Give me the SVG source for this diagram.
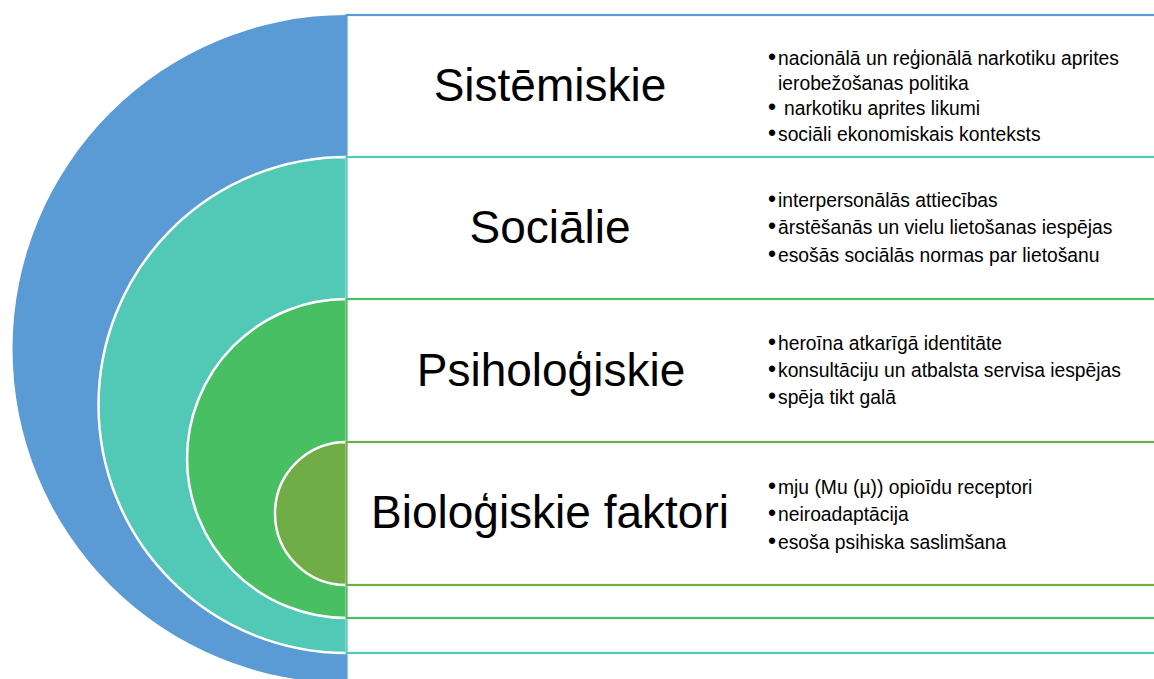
<svg xmlns="http://www.w3.org/2000/svg" width="1154" height="679" viewBox="0 0 1154 679">
<style>
.disc{stroke:#ffffff;stroke-width:2.5}
.box{fill:#ffffff;stroke-width:2.2}
.title{font-family:"Liberation Sans",Arial,sans-serif;font-size:46px;fill:#000;text-anchor:middle}
.item{font-family:"Liberation Sans",Arial,sans-serif;font-size:19.3px;fill:#000}
.b{font-size:23px}
</style>
<rect width="1154" height="679" fill="#ffffff"/>
<g id="sistemiskie">
<path d="M346.5,15 A334,334 0 0 0 346.5,683 Z" fill="#5B9BD5"/>
<rect class="box" x="346.5" y="15" width="820" height="700" stroke="#5B9BD5"/>
<text class="title" x="550" y="101">Sistēmiskie</text>
<text class="item"><tspan class="b" x="768" y="65">•</tspan><tspan x="778" y="65">nacionālā un reģionālā narkotiku aprites</tspan><tspan x="778" y="90">ierobežošanas politika</tspan><tspan class="b" x="768" y="115">•</tspan><tspan x="784" y="115">narkotiku aprites likumi</tspan><tspan class="b" x="768" y="141">•</tspan><tspan x="778" y="141">sociāli ekonomiskais konteksts</tspan></text>
</g>
<g id="socialie">
<path class="disc" d="M346.5,157 A248,248 0 0 0 346.5,653 Z" fill="#52C9B6"/>
<rect class="box" x="346.5" y="157" width="820" height="496" stroke="#52C9B6"/>
<text class="title" x="550" y="243">Sociālie</text>
<text class="item"><tspan class="b" x="768" y="207">•</tspan><tspan x="778" y="207">interpersonālās attiecības</tspan><tspan class="b" x="768" y="234">•</tspan><tspan x="778" y="234">ārstēšanās un vielu lietošanas iespējas</tspan><tspan class="b" x="768" y="262">•</tspan><tspan x="778" y="262">esošās sociālās normas par lietošanu</tspan></text>
</g>
<g id="psihologiskie">
<path class="disc" d="M346.5,299 A159.5,159.5 0 0 0 346.5,618 Z" fill="#48BF63"/>
<rect class="box" x="346.5" y="299" width="820" height="319" stroke="#48BF63"/>
<text class="title" x="551" y="386">Psiholoģiskie</text>
<text class="item"><tspan class="b" x="768" y="350">•</tspan><tspan x="778" y="350">heroīna atkarīgā identitāte</tspan><tspan class="b" x="768" y="377">•</tspan><tspan x="778" y="377">konsultāciju un atbalsta servisa iespējas</tspan><tspan class="b" x="768" y="404">•</tspan><tspan x="778" y="404">spēja tikt galā</tspan></text>
</g>
<g id="biologiskie">
<path class="disc" d="M346.5,442 A71.5,71.5 0 0 0 346.5,585 Z" fill="#70AD47"/>
<rect class="box" x="346.5" y="442" width="820" height="143" stroke="#70AD47"/>
<text class="title" x="550" y="528">Bioloģiskie faktori</text>
<text class="item"><tspan class="b" x="768" y="494">•</tspan><tspan x="778" y="494">mju (Mu (µ)) opioīdu receptori</tspan><tspan class="b" x="768" y="521">•</tspan><tspan x="778" y="521">neiroadaptācija</tspan><tspan class="b" x="768" y="549">•</tspan><tspan x="778" y="549">esoša psihiska saslimšana</tspan></text>
</g>
<g id="connectors"></g>
</svg>
